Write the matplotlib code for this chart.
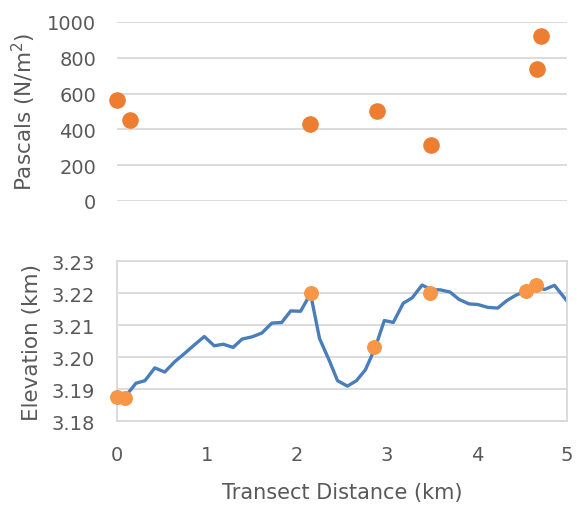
import numpy as np
import matplotlib
matplotlib.use("Agg")
import matplotlib.pyplot as plt

# pressure samples (top panel)
pa_dist = [0.0, 0.14, 2.14, 2.89, 3.49, 4.67, 4.71]
pa_vals = [565, 455, 430, 505, 310, 740, 920]

# elevation profile (bottom panel)
elev_dist = [0.10, 0.21, 0.31, 0.42, 0.53, 0.64, 0.75, 0.86, 0.97, 1.08,
             1.18, 1.29, 1.39, 1.50, 1.61, 1.72, 1.83, 1.93, 2.04, 2.15,
             2.25, 2.36, 2.45, 2.56, 2.66, 2.76, 2.87, 2.97, 3.07, 3.18,
             3.28, 3.39, 3.49, 3.59, 3.70, 3.80, 3.91, 4.01, 4.12, 4.23,
             4.33, 4.43, 4.54, 4.64, 4.75, 4.86, 5.00]
elev_km = [3.1879, 3.1918, 3.1926, 3.1966, 3.1953, 3.1985, 3.2011, 3.2038, 3.2064, 3.2035,
           3.2040, 3.2030, 3.2056, 3.2063, 3.2075, 3.2106, 3.2108, 3.2144, 3.2143, 3.2198,
           3.2058, 3.1988, 3.1926, 3.1909, 3.1926, 3.1960, 3.2030, 3.2114, 3.2108, 3.2168,
           3.2185, 3.2225, 3.2210, 3.2210, 3.2203, 3.2180, 3.2166, 3.2164, 3.2155, 3.2153,
           3.2176, 3.2193, 3.2206, 3.2222, 3.2211, 3.2224, 3.2175]

# sample sites on the profile
site_dist = [0.0, 0.09, 2.15, 2.85, 3.48, 4.54, 4.65]
site_elev = [3.1875, 3.1873, 3.2200, 3.2030, 3.2201, 3.2207, 3.2225]

txt = "#595959"
grid = "#D9D9D9"
plt.rcParams['font.family'] = ['DejaVu Sans']

fig = plt.figure(figsize=(5.77, 5.06), dpi=100)
ax1 = fig.add_axes([0.2028, 0.6008, 0.7799, 0.3538])
ax2 = fig.add_axes([0.2028, 0.166, 0.7799, 0.3162])

# top: pascals
ax1.scatter(pa_dist, pa_vals, s=120, color="#ED7D31", zorder=3, clip_on=False)
ax1.set_xlim(0, 5)
ax1.set_ylim(0, 1000)
ax1.set_yticks(range(0, 1001, 200))
ax1.set_xticks([])
ax1.grid(axis="y", color=grid, lw=1.3)
ax1.set_axisbelow(True)
for s in ax1.spines.values():
    s.set_visible(False)
ax1.tick_params(axis="y", length=0, labelsize=14, labelcolor=txt, pad=15)
ax1.set_ylabel("Pascals (N/m$^2$)", fontsize=15.5, color=txt)
ax1.yaxis.set_label_coords(-0.176, 0.5)

# bottom: elevation
ax2.plot(elev_dist, elev_km, color="#4A7EBB", lw=2.4, zorder=2, clip_on=True)
ax2.scatter(site_dist, site_elev, s=95, color="#F79646", zorder=3, clip_on=False)
ax2.set_xlim(0, 5)
ax2.set_ylim(3.18, 3.23)
ax2.set_yticks([3.18, 3.19, 3.20, 3.21, 3.22, 3.23])
ax2.set_yticklabels(["3.18", "3.19", "3.20", "3.21", "3.22", "3.23"])
ax2.set_xticks(range(0, 6))
ax2.grid(axis="y", color=grid, lw=1.3)
ax2.set_axisbelow(True)
for s in ax2.spines.values():
    s.set_color(grid)
    s.set_linewidth(1.3)
ax2.tick_params(length=0, labelsize=14, labelcolor=txt)
ax2.tick_params(axis="y", pad=16)
ax2.tick_params(axis="x", pad=17)
ax2.set_ylabel("Elevation (km)", fontsize=15.5, color=txt)
ax2.yaxis.set_label_coords(-0.166, 0.5)
ax2.set_xlabel("Transect Distance (km)", fontsize=15, color=txt)
ax2.xaxis.set_label_coords(0.5, -0.38)

fig.savefig("out.png", dpi=100)
